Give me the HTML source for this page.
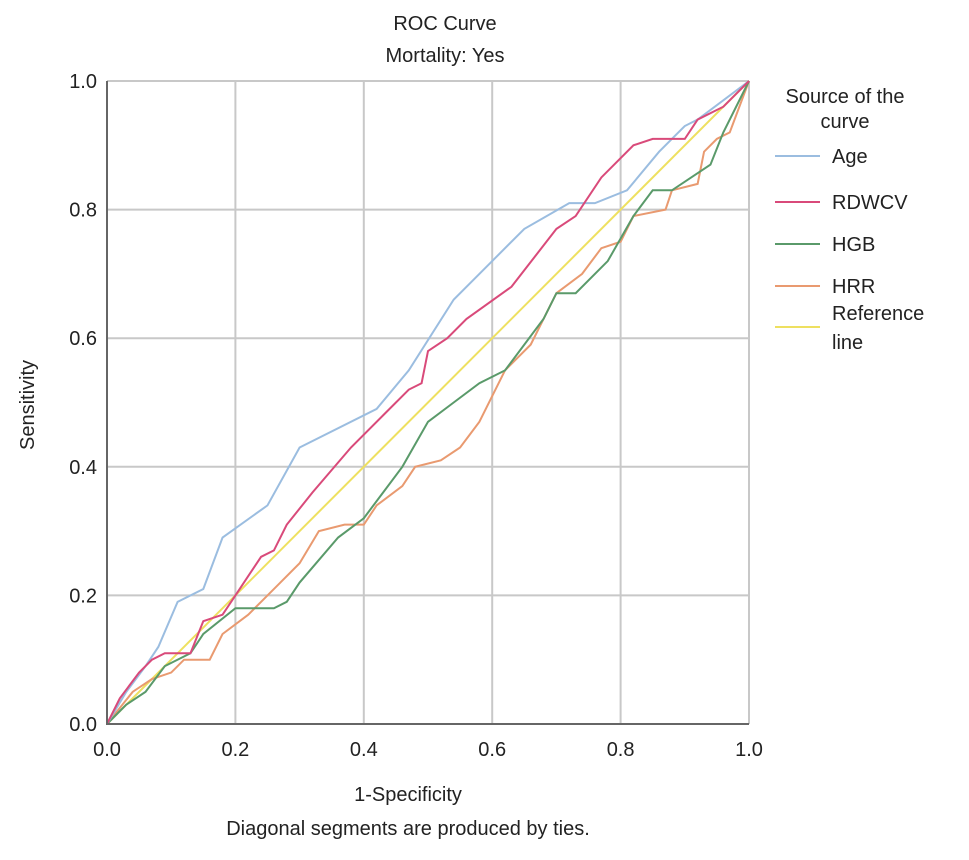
<!DOCTYPE html>
<html><head><meta charset="utf-8"><style>
body{margin:0;background:#fff;font-family:"Liberation Sans",sans-serif;}
svg text{font-family:"Liberation Sans",sans-serif;fill:#222;}
</style></head><body>
<svg width="969" height="855">
<g id="grid"></g>
<g id="series"></g>
<g id="axes"></g>
<text x="445" y="30" font-size="20" text-anchor="middle">ROC Curve</text>
<text x="445" y="62" font-size="20" text-anchor="middle">Mortality: Yes</text>
<text x="408" y="801" font-size="20" text-anchor="middle">1-Specificity</text>
<text x="408" y="835" font-size="20" text-anchor="middle">Diagonal segments are produced by ties.</text>
<text transform="translate(34,405) rotate(-90)" font-size="20" text-anchor="middle">Sensitivity</text>
<g>
<text x="845" y="103" font-size="20" text-anchor="middle">Source of the</text>
<text x="845" y="128" font-size="20" text-anchor="middle">curve</text>
<line x1="775" y1="156" x2="820" y2="156" stroke="#9bbde0" stroke-width="2"/>
<text x="832" y="163" font-size="20">Age</text>
<line x1="775" y1="202" x2="820" y2="202" stroke="#d94a7a" stroke-width="2"/>
<text x="832" y="209" font-size="20">RDWCV</text>
<line x1="775" y1="244" x2="820" y2="244" stroke="#5a9a6a" stroke-width="2"/>
<text x="832" y="251" font-size="20">HGB</text>
<line x1="775" y1="286" x2="820" y2="286" stroke="#e99a70" stroke-width="2"/>
<text x="832" y="293" font-size="20">HRR</text>
<line x1="775" y1="327" x2="820" y2="327" stroke="#eee060" stroke-width="2"/>
<text x="832" y="320" font-size="20"><tspan x="832" y="320">Reference</tspan><tspan x="832" y="349">line</tspan></text>
</g>
</svg>
<script>
const xTicks=[0,0.2,0.4,0.6,0.8,1.0];
const yTicks=[0,0.2,0.4,0.6,0.8,1.0];
const ageX=[0,0.03,0.06,0.08,0.11,0.15,0.18,0.25,0.30,0.42,0.47,0.54,0.60,0.65,0.72,0.76,0.81,0.86,0.90,0.92,0.96,1];
const ageY=[0,0.05,0.09,0.12,0.19,0.21,0.29,0.34,0.43,0.49,0.55,0.66,0.72,0.77,0.81,0.81,0.83,0.89,0.93,0.94,0.97,1];
const rdwX=[0,0.02,0.05,0.07,0.09,0.13,0.15,0.18,0.20,0.22,0.24,0.26,0.28,0.32,0.38,0.43,0.47,0.49,0.50,0.53,0.56,0.63,0.70,0.73,0.77,0.82,0.85,0.90,0.92,0.96,1];
const rdwY=[0,0.04,0.08,0.10,0.11,0.11,0.16,0.17,0.20,0.23,0.26,0.27,0.31,0.36,0.43,0.48,0.52,0.53,0.58,0.60,0.63,0.68,0.77,0.79,0.85,0.90,0.91,0.91,0.94,0.96,1];
const hgbX=[0,0.03,0.06,0.09,0.13,0.15,0.20,0.26,0.28,0.30,0.36,0.40,0.46,0.50,0.54,0.58,0.62,0.68,0.70,0.73,0.78,0.82,0.85,0.88,0.91,0.94,0.96,1];
const hgbY=[0,0.03,0.05,0.09,0.11,0.14,0.18,0.18,0.19,0.22,0.29,0.32,0.40,0.47,0.50,0.53,0.55,0.63,0.67,0.67,0.72,0.79,0.83,0.83,0.85,0.87,0.92,1];
const hrrX=[0,0.04,0.07,0.10,0.12,0.16,0.18,0.22,0.27,0.30,0.33,0.37,0.40,0.42,0.46,0.48,0.52,0.55,0.58,0.62,0.66,0.70,0.74,0.77,0.80,0.82,0.87,0.88,0.92,0.93,0.95,0.97,1];
const hrrY=[0,0.05,0.07,0.08,0.10,0.10,0.14,0.17,0.22,0.25,0.30,0.31,0.31,0.34,0.37,0.40,0.41,0.43,0.47,0.55,0.59,0.67,0.70,0.74,0.75,0.79,0.80,0.83,0.84,0.89,0.91,0.92,1];
const refX=[0,1], refY=[0,1];
const X0=107,X1=749,Y0=724,Y1=81;
const sx=v=>X0+v*(X1-X0), sy=v=>Y0-v*(Y0-Y1);
const NS='http://www.w3.org/2000/svg';
function mk(tag,attrs,parent){const e=document.createElementNS(NS,tag);for(const k in attrs)e.setAttribute(k,attrs[k]);parent.appendChild(e);return e;}
const grid=document.getElementById('grid'),axes=document.getElementById('axes'),ser=document.getElementById('series');
xTicks.forEach(t=>{const l=mk('line',{x1:sx(t),x2:sx(t),y1:Y1,y2:Y0,stroke:'#c8c8c8','stroke-width':2},grid);


const tx=mk('text',{x:sx(t),y:Y0+32,'font-size':20,'text-anchor':'middle'},axes);tx.textContent=t.toFixed(1);

});
yTicks.forEach(t=>{const l=mk('line',{x1:X0,x2:X1,y1:sy(t),y2:sy(t),stroke:'#c8c8c8','stroke-width':2},grid);


const tx=mk('text',{x:X0-10,y:sy(t)+7,'font-size':20,'text-anchor':'end'},axes);tx.textContent=t.toFixed(1);

});
const ax=mk('path',{d:`M${X0},${Y1}V${Y0}H${X1}`,stroke:'#666',fill:'none','stroke-width':2},axes);


function line(xs,ys,c,name){const p=mk('polyline',{points:xs.map((x,i)=>sx(x)+','+sy(ys[i])).join(' '),fill:'none',stroke:c,'stroke-width':2},ser);

}
line(refX,refY,'#eee060','reference-line');
line(hrrX,hrrY,'#e99a70','hrr-curve');
line(hgbX,hgbY,'#5a9a6a','hgb-curve');
line(ageX,ageY,'#9bbde0','age-curve');
line(rdwX,rdwY,'#d94a7a','rdwcv-curve');
</script>
</body></html>
